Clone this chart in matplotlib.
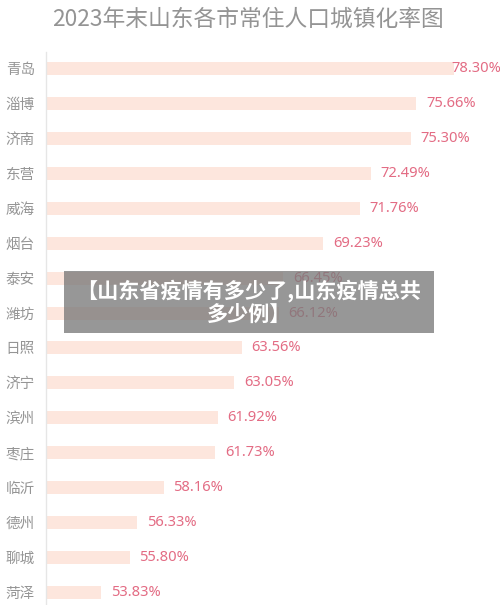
import numpy as np
import matplotlib
matplotlib.use('Agg')
import matplotlib.pyplot as plt
from matplotlib.patches import Rectangle

plt.rcParams['font.family'] = ['Noto Sans CJK SC', 'DejaVu Sans']

cities = ['青岛', '淄博', '济南', '东营', '威海', '烟台', '泰安', '潍坊',
          '日照', '济宁', '滨州', '枣庄', '临沂', '德州', '聊城', '菏泽']
rates = [78.30, 75.66, 75.30, 72.49, 71.76, 69.23, 66.45, 66.12,
         63.56, 63.05, 61.92, 61.73, 58.16, 56.33, 55.80, 53.83]
title = '2023年末山东各市常住人口城镇化率图'
banner = '【山东省疫情有多少了,山东疫情总共\n多少例】'

W, H = 500, 605
fig = plt.figure(figsize=(W / 100, H / 100), dpi=100)
fig.patch.set_facecolor('white')

# axes box in pixel terms (left edge at the gray axis line)
x0, x1 = 46, 497
ytop, ybot = 51.5, 609.5
ax = fig.add_axes([x0 / W, 1 - ybot / H, (x1 - x0) / W, (ybot - ytop) / H])

base = 50.0
y = np.arange(len(cities))
vals = np.array(rates)
ax.barh(y, vals - base, left=base, height=0.37, color='#fde6dd')
ax.set_xlim(base, base + (x1 - x0) / 14.43)
ax.set_ylim(len(cities) - 0.5, -0.5)

for i, v in enumerate(vals):
    off = -2 if v == vals.max() else 7
    ax.annotate(f'{v:.2f}%', (v, i), xytext=(off, 0), textcoords='offset points',
                ha='left', va='center', fontsize=10.6, color='#e36c84',
                family=['Noto Sans', 'DejaVu Sans'])

ax.set_yticks(y)
ax.set_yticklabels(cities, fontsize=10.5, color='#959595')
ax.tick_params(axis='y', length=0, pad=8)
ax.set_xticks([])
for s in ['top', 'right', 'bottom']:
    ax.spines[s].set_visible(False)
ax.spines['left'].set_color('#e6e6e6')
ax.spines['left'].set_linewidth(1)

fig.text(248 / W, 1 - 19 / H, title, ha='center', va='center',
         fontsize=16.4, color='#949494')

# overlay banner
fig.patches.append(Rectangle((64 / W, 1 - 333 / H), (434 - 64) / W, (333 - 271) / H,
                             transform=fig.transFigure, facecolor='#7a7a7a',
                             alpha=0.78, edgecolor='none', zorder=5))
fig.text(249 / W, 1 - 302 / H, banner, ha='center', va='center', fontsize=15.2,
         fontweight='bold', color='white', linespacing=1.1, zorder=6)

fig.savefig('out.png', dpi=100)
